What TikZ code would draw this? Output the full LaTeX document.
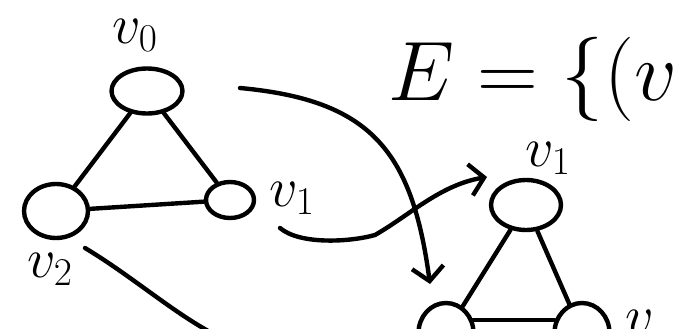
\RequirePackage{fix-cm}
\documentclass[tikz,border=0pt]{standalone}
\usetikzlibrary{shapes.geometric,arrows.meta}
\tikzset{
	pen/.style={line width=2.5pt,line cap=round,line join=round},
	vert/.style={pen,draw,ellipse,inner sep=0pt},
	lbl/.style={font=\fontsize{32}{38}\selectfont,inner sep=0pt,anchor=base},
	barb/.style={-{Straight Barb[length=8pt,width=18pt,line width=2.5pt]}}
}
\begin{document}
\begin{tikzpicture}[x=0.02cm,y=-0.02cm]
		\useasboundingbox (0,0) rectangle (683,328);
		\clip (0,0) rectangle (683,328);
		% left triangle
		\node[vert,minimum width=1.42cm,minimum height=0.9cm] (a0) at (147,91) {};
		\node[vert,minimum width=0.96cm,minimum height=0.72cm] (a1) at (230,200) {};
		\node[vert,minimum width=1.28cm,minimum height=1.08cm] (a2) at (56,211) {};
		\draw[pen] (a0) -- (a2);
		\draw[pen] (a0) -- (a1);
		\draw[pen] (a2) -- (a1);
		\node[lbl] (la0) at (135,43) {$v_0$};
		\node[lbl] (la1) at (292,206) {$v_1$};
		\node[lbl] (la2) at (50,277) {$v_2$};
		% right triangle
		\node[vert,minimum width=1.4cm,minimum height=1.0cm] (b1) at (526,205) {};
		\node[vert,minimum width=1.1cm,minimum height=1.2cm] (b0) at (446,333) {};
		\node[vert,minimum width=1.1cm,minimum height=1.2cm] (b2) at (582,333) {};
		\draw[pen] (b1) -- (b0);
		\draw[pen] (b1) -- (b2);
		\draw[pen] (b0.25) -- (b2.155);
		\node[lbl] (lb1) at (548,166) {$v_1$};
		\node[lbl] (lb2) at (640,334) {$v$};
		% edge set
		\node[lbl,font=\fontsize{48}{54}\selectfont,anchor=base west] (eset) at (388,100) {$E=\{(v$};
		% maps
		\coordinate (p0) at (240,88);
		\coordinate (q0) at (430,284);
		\coordinate (p1) at (280,228);
		\coordinate (m1) at (375,235);
		\coordinate (q1) at (487,177);
		\coordinate (p2) at (85,248);
		\coordinate (q2) at (210,332);
		\draw[pen,barb] (p0) .. controls (370,100) and (412,150) .. (q0);
		\draw[pen,barb] (p1) .. controls (300,245) and (350,242) .. (m1) .. controls (410,215) and (440,185) .. (q1);
		\draw[pen] (p2) .. controls (130,275) and (170,310) .. (q2);
	\end{tikzpicture}
\end{document}
